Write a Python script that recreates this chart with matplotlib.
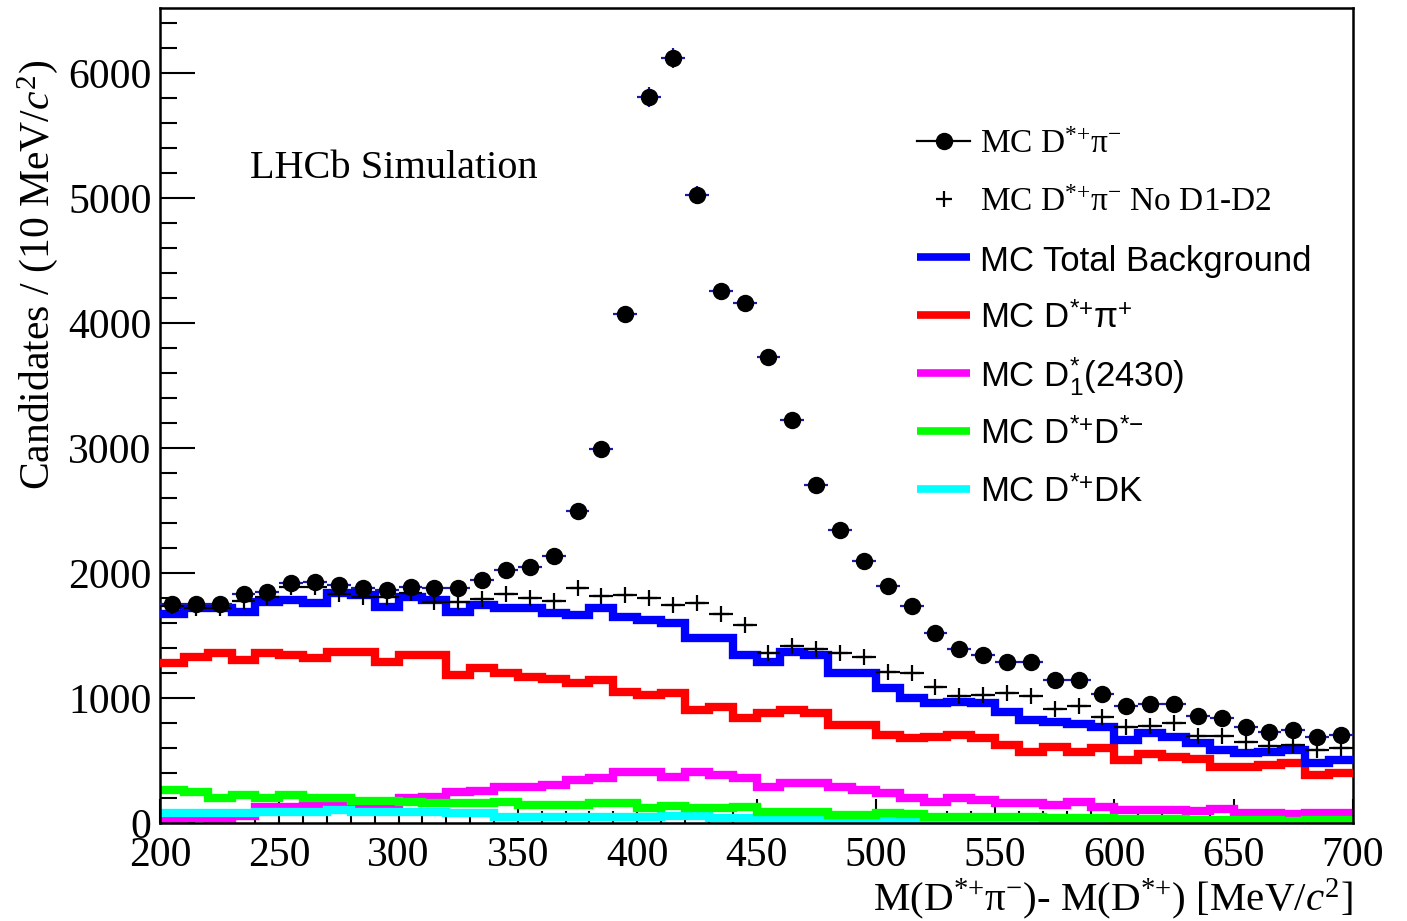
import matplotlib.pyplot as plt
import numpy as np

plt.rcParams["font.family"] = "Liberation Serif"
plt.rcParams["mathtext.fontset"] = "custom"
plt.rcParams["mathtext.rm"] = "Liberation Serif"
plt.rcParams["mathtext.it"] = "Liberation Serif:italic"
plt.rcParams["mathtext.bf"] = "Liberation Serif:bold"

# 10 MeV bins from 200 to 700
edges = np.arange(200, 701, 10)
centers = edges[:-1] + 5

mc_signal = [1752, 1750, 1750, 1835, 1850, 1922, 1930, 1902, 1878, 1862,
             1890, 1878, 1878, 1942, 2025, 2050, 2135, 2498, 2988, 4075,
             5808, 6118, 5025, 4258, 4158, 3730, 3225, 2700, 2345, 2100,
             1900, 1735, 1520, 1390, 1342, 1290, 1290, 1145, 1145, 1034,
             936, 950, 950, 856, 838, 770, 732, 742, 691, 705]

mc_no_d1d2 = [1740, 1717, 1720, 1775, 1810, 1890, 1890, 1835, 1810, 1810,
              1840, 1770, 1770, 1795, 1835, 1800, 1776, 1877, 1816, 1824,
              1797, 1744, 1757, 1672, 1584, 1357, 1416, 1389, 1363, 1325,
              1211, 1197, 1091, 1018, 1024, 1037, 1016, 916, 936, 851,
              771, 776, 797, 696, 696, 651, 616, 624, 584, 603]

mc_total_bkg = [1672, 1717, 1717, 1691, 1771, 1784, 1757, 1837, 1824, 1731,
                1811, 1784, 1691, 1744, 1717, 1717, 1677, 1664, 1717, 1651,
                1624, 1597, 1477, 1477, 1344, 1291, 1371, 1344, 1197, 1197,
                1077, 997, 957, 970, 957, 891, 824, 811, 792, 771,
                664, 717, 691, 637, 584, 557, 571, 584, 483, 504]

mc_dstar_pi_plus = [1277, 1331, 1357, 1304, 1357, 1344, 1317, 1371, 1371, 1291,
                    1344, 1344, 1184, 1237, 1197, 1171, 1150, 1117, 1144, 1051,
                    1024, 1037, 904, 931, 837, 877, 904, 877, 784, 784,
                    704, 677, 691, 704, 677, 624, 571, 611, 571, 597,
                    504, 552, 531, 509, 451, 451, 464, 483, 384, 397]

mc_d1_2430 = [15, 40, 15, 60, 130, 130, 140, 150, 135, 135,
              200, 210, 250, 260, 290, 290, 304, 344, 357, 411,
              411, 371, 411, 384, 357, 291, 317, 317, 291, 264,
              237, 197, 171, 200, 184, 157, 157, 144, 171, 131,
              104, 104, 104, 98, 111, 77, 77, 70, 77, 84]

mc_dstar_dstar = [264, 251, 197, 224, 197, 224, 197, 197, 179, 179,
                  171, 157, 157, 157, 171, 144, 144, 144, 157, 157,
                  117, 136, 117, 117, 131, 91, 91, 91, 64, 64,
                  77, 70, 51, 51, 51, 51, 51, 37, 37, 37,
                  29, 29, 29, 24, 24, 24, 24, 17, 24, 24]

mc_dstar_dk = [77, 77, 77, 77, 91, 91, 91, 104, 91, 91,
               91, 91, 77, 77, 51, 51, 51, 51, 51, 51,
               51, 57, 57, 37, 37, 24, 24, 24, 24, 24,
               30, 20, 20, 20, 12, 12, 10, 10, 10, 8,
               8, 8, 6, 6, 6, 5, 5, 5, 5, 5]

fig = plt.figure(figsize=(14.07, 9.21), dpi=100)
ax = fig.add_axes([160 / 1407, 98 / 921, 1193 / 1407, 815 / 921])

hist_lw = 6
ax.stairs(mc_d1_2430, edges, baseline=None, color="#ff00ff", lw=hist_lw, zorder=2)
ax.stairs(mc_dstar_dk, edges, baseline=None, color="#00ffff", lw=hist_lw, zorder=2)
ax.stairs(mc_dstar_dstar, edges, baseline=None, color="#00ff00", lw=hist_lw, zorder=2)
ax.stairs(mc_dstar_pi_plus, edges, baseline=None, color="#ff0000", lw=hist_lw, zorder=3)
ax.stairs(mc_total_bkg, edges, baseline=None, color="#0000ff", lw=hist_lw, zorder=3)

ax.errorbar(centers, mc_no_d1d2, xerr=5, fmt="+", color="black",
            markersize=12, mew=1.6, elinewidth=1.6, zorder=4)
sig = np.array(mc_signal)
ax.errorbar(centers, sig, xerr=5, yerr=np.sqrt(sig), fmt="none",
            ecolor="#1a1aa6", elinewidth=1.6, zorder=5)
ax.plot(centers, sig, "o", color="black", markersize=11.5, zorder=6)

ax.set_xlim(200, 700)
ax.set_ylim(0, 6520)
ax.set_xticks(np.arange(200, 701, 50))
ax.set_xticks(np.arange(200, 701, 10), minor=True)
ax.set_yticks(np.arange(0, 6001, 1000))
ax.set_yticks(np.arange(0, 6501, 200), minor=True)
ax.tick_params(axis="both", which="both", direction="in", width=1.5,
               labelsize=30, top=False, right=False)
ax.tick_params(axis="x", which="major", length=17.6, pad=10)
ax.tick_params(axis="x", which="minor", length=8.8)
ax.tick_params(axis="y", which="major", length=25, pad=6)
ax.tick_params(axis="y", which="minor", length=12.5)
for side in ax.spines.values():
    side.set_linewidth(1.8)

sup_ds = r"$^{\mathregular{*{+}}}$"
ax.text(-0.1023, 0.936, r"Candidates / (10 MeV/$c^{2}$)", transform=ax.transAxes,
        rotation=90, ha="center", va="top", fontsize=30)
ax.text(1.0, -0.066,
        "M(D" + sup_ds + r"π$^{\mathregular{-}}$)- M(D" + sup_ds + r") [MeV/$c^{2}$]",
        transform=ax.transAxes, ha="right", va="top", fontsize=29.5)

ax.text(0.0754, 0.792, "LHCb Simulation", transform=ax.transAxes,
        ha="left", va="baseline", fontsize=29)

# legend drawn by hand so each entry can carry its own font
serif = "Liberation Serif"
sans = "Liberation Sans"
entries = [
    ("MC D" + sup_ds + r"π$^{\mathregular{-}}$", "dot", "black", serif, 24),
    ("MC D" + sup_ds + r"π$^{\mathregular{-}}$ No D1-D2", "cross", "black", serif, 24),
    ("MC Total Background", "line", "#0000ff", sans, 25),
    ("MC D" + sup_ds + r"π$^{\mathregular{+}}$", "line", "#ff0000", sans, 25),
    (r"MC D$_{\mathregular{1}}^{\mathregular{*}}$(2430)", "line", "#ff00ff", sans, 25),
    ("MC D" + sup_ds + r"D$^{\mathregular{*{-}}}$", "line", "#00ff00", sans, 25),
    ("MC D" + sup_ds + "DK", "line", "#00ffff", sans, 25),
]
x0, x1, xt = 0.6345, 0.679, 0.6873
y_top, dy = 0.8368, 0.0712
for i, (label, kind, color, family, size) in enumerate(entries):
    y = y_top - i * dy
    if kind == "dot":
        ax.plot([x0, x1], [y, y], color=color, lw=1.6, transform=ax.transAxes, clip_on=False)
        ax.plot([(x0 + x1) / 2], [y], "o", color=color, markersize=11.5,
                transform=ax.transAxes, clip_on=False)
    elif kind == "cross":
        ax.plot([(x0 + x1) / 2], [y], "+", color=color, markersize=12, mew=1.6,
                transform=ax.transAxes, clip_on=False)
    else:
        ax.plot([x0, x1], [y, y], color=color, lw=5.5, solid_capstyle="butt",
                transform=ax.transAxes, clip_on=False)
    ax.text(xt, y - 0.005, label, transform=ax.transAxes, ha="left", va="center",
            fontsize=size, family=family)

fig.savefig("out.png", dpi=100)
